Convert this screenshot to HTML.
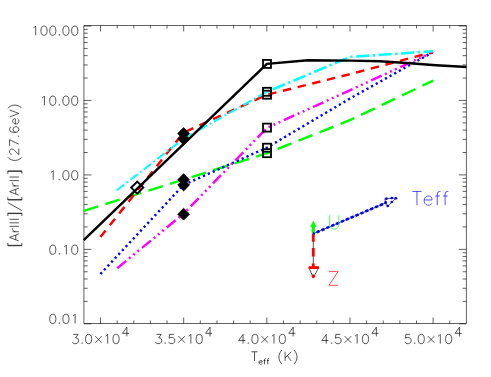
<!DOCTYPE html>
<html><head><meta charset="utf-8"><title>plot</title>
<style>html,body{margin:0;padding:0;background:#fff;}body{width:491px;height:377px;overflow:hidden;position:relative;font-family:"Liberation Sans",sans-serif;}</style></head>
<body>
<svg width="491" height="377" viewBox="0 0 491 377" style="position:absolute;left:0;top:0">
<rect width="491" height="377" fill="#fff"/>
<g stroke="#000" stroke-width="0.62" fill="none" stroke-linejoin="round">
<rect x="83.9" y="25.5" width="382.50" height="298.0"/>
<path d="M100.53 323.5v-6.0M100.53 25.5v6.0M117.16 323.5v-3.0M117.16 25.5v3.0M133.79 323.5v-3.0M133.79 25.5v3.0M150.42 323.5v-3.0M150.42 25.5v3.0M167.05 323.5v-3.0M167.05 25.5v3.0M183.68 323.5v-6.0M183.68 25.5v6.0M200.31 323.5v-3.0M200.31 25.5v3.0M216.94 323.5v-3.0M216.94 25.5v3.0M233.57 323.5v-3.0M233.57 25.5v3.0M250.20 323.5v-3.0M250.20 25.5v3.0M266.83 323.5v-6.0M266.83 25.5v6.0M283.47 323.5v-3.0M283.47 25.5v3.0M300.10 323.5v-3.0M300.10 25.5v3.0M316.73 323.5v-3.0M316.73 25.5v3.0M333.36 323.5v-3.0M333.36 25.5v3.0M349.99 323.5v-6.0M349.99 25.5v6.0M366.62 323.5v-3.0M366.62 25.5v3.0M383.25 323.5v-3.0M383.25 25.5v3.0M399.88 323.5v-3.0M399.88 25.5v3.0M416.51 323.5v-3.0M416.51 25.5v3.0M433.14 323.5v-6.0M433.14 25.5v6.0M449.77 323.5v-3.0M449.77 25.5v3.0M83.9 323.80h7.6M466.4 323.80h-7.6M83.9 301.39h3.8M466.4 301.39h-3.8M83.9 288.28h3.8M466.4 288.28h-3.8M83.9 278.98h3.8M466.4 278.98h-3.8M83.9 271.76h3.8M466.4 271.76h-3.8M83.9 265.87h3.8M466.4 265.87h-3.8M83.9 260.88h3.8M466.4 260.88h-3.8M83.9 256.56h3.8M466.4 256.56h-3.8M83.9 252.76h3.8M466.4 252.76h-3.8M83.9 249.35h7.6M466.4 249.35h-7.6M83.9 226.94h3.8M466.4 226.94h-3.8M83.9 213.83h3.8M466.4 213.83h-3.8M83.9 204.53h3.8M466.4 204.53h-3.8M83.9 197.31h3.8M466.4 197.31h-3.8M83.9 191.42h3.8M466.4 191.42h-3.8M83.9 186.43h3.8M466.4 186.43h-3.8M83.9 182.11h3.8M466.4 182.11h-3.8M83.9 178.31h3.8M466.4 178.31h-3.8M83.9 174.90h7.6M466.4 174.90h-7.6M83.9 152.49h3.8M466.4 152.49h-3.8M83.9 139.38h3.8M466.4 139.38h-3.8M83.9 130.08h3.8M466.4 130.08h-3.8M83.9 122.86h3.8M466.4 122.86h-3.8M83.9 116.97h3.8M466.4 116.97h-3.8M83.9 111.98h3.8M466.4 111.98h-3.8M83.9 107.66h3.8M466.4 107.66h-3.8M83.9 103.86h3.8M466.4 103.86h-3.8M83.9 100.45h7.6M466.4 100.45h-7.6M83.9 78.04h3.8M466.4 78.04h-3.8M83.9 64.93h3.8M466.4 64.93h-3.8M83.9 55.63h3.8M466.4 55.63h-3.8M83.9 48.41h3.8M466.4 48.41h-3.8M83.9 42.52h3.8M466.4 42.52h-3.8M83.9 37.53h3.8M466.4 37.53h-3.8M83.9 33.21h3.8M466.4 33.21h-3.8M83.9 29.41h3.8M466.4 29.41h-3.8M83.9 26.00h7.6M466.4 26.00h-7.6"/>
</g>
<clipPath id="c"><rect x="82.7" y="25.5" width="383.70" height="298.0"/></clipPath>
<g fill="none" stroke-width="2.45" clip-path="url(#c)" stroke-linejoin="round">
<polyline points="83.2,211.0 183.5,179.7 267.0,153.2 349.9,120.2 433.2,80.6" stroke="#00ff00" stroke-dasharray="15 7.6" stroke-dashoffset="22"/>
<polyline points="100.4,274.0 183.5,185.0 267.0,147.6 349.9,98.6 433.0,52.0" stroke="#0000ff" stroke-dasharray="2.2 3.1" stroke-dashoffset="0" stroke-width="2.4"/>
<polyline points="117.3,268.2 183.5,213.8 267.0,127.8 349.9,90.3 433.0,52.0" stroke="#ff00ff" stroke-dasharray="11.5 3.7 2 3.5 2 3.5 2 3.8" stroke-dashoffset="0"/>
<polyline points="100.4,237.1 183.4,132.7 267.0,94.7 349.9,74.2 433.0,52.0" stroke="#ff0000" stroke-dasharray="8.4 6.7" stroke-dashoffset="0"/>
<polyline points="116.8,190.2 183.5,138.8 267.0,91.8" stroke="#00ffff" stroke-dasharray="9.4 2.9 1.8 2.9" stroke-dashoffset="0" stroke-width="2.0"/>
<polyline points="267.0,91.8 349.9,57.0 433.0,51.2" stroke="#00ffff" stroke-dasharray="13.2 3.4 2.4 3.5" stroke-dashoffset="16.3" stroke-width="2.6"/>
<polyline points="83.7,240.2 266.9,63.9 308.0,60.2 350.0,60.6 380.0,61.3 410.0,63.2 436.0,65.2 470.0,67.2" stroke="#000"/>
</g>
<path d="M137.25 181.6L143.25 187.6L137.25 193.6L131.25 187.6Z" fill="none" stroke="#000" stroke-width="2.0"/>
<path d="M183.6 127.6L189.5 133.5L183.6 139.4L177.7 133.5Z" fill="#000" stroke="#000" stroke-width="0.8"/>
<path d="M183.6 133.1L189.5 139.0L183.6 144.9L177.7 139.0Z" fill="#000" stroke="#000" stroke-width="0.8"/>
<path d="M183.6 173.79999999999998L189.5 179.7L183.6 185.6L177.7 179.7Z" fill="#000" stroke="#000" stroke-width="0.8"/>
<path d="M183.6 179.1L189.5 185L183.6 190.9L177.7 185Z" fill="#000" stroke="#000" stroke-width="0.8"/>
<path d="M183.6 208.29999999999998L189.5 214.2L183.6 220.1L177.7 214.2Z" fill="#000" stroke="#000" stroke-width="0.8"/>
<rect x="263.0" y="59.9" width="8.0" height="8.0" fill="none" stroke="#000" stroke-width="1.8"/>
<rect x="263.0" y="87.8" width="8.0" height="8.0" fill="none" stroke="#000" stroke-width="1.8"/>
<rect x="263.0" y="90.7" width="8.0" height="8.0" fill="none" stroke="#000" stroke-width="1.8"/>
<rect x="263.0" y="123.6" width="8.0" height="8.0" fill="none" stroke="#000" stroke-width="1.8"/>
<rect x="263.0" y="143.7" width="8.0" height="8.0" fill="none" stroke="#000" stroke-width="1.8"/>
<rect x="263.0" y="149.2" width="8.0" height="8.0" fill="none" stroke="#000" stroke-width="1.8"/>
<g stroke="#000" stroke-width="0.67" fill="none">
<path d="M313.3 233.7L313.3 267.6"/>
<path d="M308.9 267.6L318.7 267.6L313.3 277.5Z"/>
<path d="M313.3 233.7L386.1 202.7"/>
<path d="M384.7 198.8L396.1 198L387.5 206.6Z"/>
</g>
<path d="M313.3 233.7L313.3 226" stroke="#00ff00" stroke-width="3.2" fill="none"/>
<path d="M310.6 226.7L313.3 221.4L316.0 226.7Z" fill="#00ff00" stroke="#00ff00" stroke-width="0.8"/>
<path d="M313.3 233.7L313.3 267.6" stroke="#ff0000" stroke-width="2.8" fill="none" stroke-dasharray="8 6.3 8.5 7 10"/>
<path d="M308.7 267.6L318.9 267.6" stroke="#ff0000" stroke-width="2.8" fill="none"/>
<ellipse cx="313.3" cy="276.3" rx="1.6" ry="2.0" fill="#ff0000"/>
<path d="M313.3 233.7L386.1 202.7" stroke="#0000ff" stroke-width="2.6" fill="none" stroke-dasharray="3.3 2" stroke-dashoffset="1.75"/>
<circle cx="386.5" cy="198.7" r="1.35" fill="#0000ff"/>
<circle cx="391.8" cy="198.0" r="1.35" fill="#0000ff"/>
<circle cx="395.9" cy="198.3" r="1.35" fill="#0000ff"/>
<circle cx="391.8" cy="202.0" r="1.35" fill="#0000ff"/>
<circle cx="387.8" cy="206.0" r="1.35" fill="#0000ff"/>
<circle cx="385.6" cy="202.3" r="1.35" fill="#0000ff"/>
<path transform="translate(79.10,35.30)" d="M-45.61 -7.46L-44.74 -7.89L-43.42 -9.21L-43.42 -0.00M-38.16 -5.26L-38.16 -3.95L-37.72 -1.75L-36.84 -0.44L-35.53 -0.00L-34.65 -0.00L-33.33 -0.44L-32.46 -1.75L-32.02 -3.95L-32.02 -5.26L-32.46 -7.46L-33.33 -8.77L-34.65 -9.21L-35.53 -9.21L-36.84 -8.77L-37.72 -7.46L-38.16 -5.26M-29.39 -5.26L-29.39 -3.95L-28.95 -1.75L-28.07 -0.44L-26.75 -0.00L-25.88 -0.00L-24.56 -0.44L-23.68 -1.75L-23.25 -3.95L-23.25 -5.26L-23.68 -7.46L-24.56 -8.77L-25.88 -9.21L-26.75 -9.21L-28.07 -8.77L-28.95 -7.46L-29.39 -5.26M-19.74 0.00L-20.18 -0.44L-19.74 -0.88L-19.30 -0.44L-19.74 0.00M-16.23 -5.26L-16.23 -3.95L-15.79 -1.75L-14.91 -0.44L-13.60 -0.00L-12.72 -0.00L-11.40 -0.44L-10.53 -1.75L-10.09 -3.95L-10.09 -5.26L-10.53 -7.46L-11.40 -8.77L-12.72 -9.21L-13.60 -9.21L-14.91 -8.77L-15.79 -7.46L-16.23 -5.26M-7.46 -5.26L-7.46 -3.95L-7.02 -1.75L-6.14 -0.44L-4.82 -0.00L-3.95 -0.00L-2.63 -0.44L-1.75 -1.75L-1.32 -3.95L-1.32 -5.26L-1.75 -7.46L-2.63 -8.77L-3.95 -9.21L-4.82 -9.21L-6.14 -8.77L-7.02 -7.46L-7.46 -5.26" fill="none" stroke="#000" stroke-width="0.67" stroke-linejoin="round" stroke-linecap="butt"/>
<path transform="translate(79.10,105.30)" d="M-36.84 -7.46L-35.97 -7.89L-34.65 -9.21L-34.65 -0.00M-29.39 -5.26L-29.39 -3.95L-28.95 -1.75L-28.07 -0.44L-26.75 -0.00L-25.88 -0.00L-24.56 -0.44L-23.68 -1.75L-23.25 -3.95L-23.25 -5.26L-23.68 -7.46L-24.56 -8.77L-25.88 -9.21L-26.75 -9.21L-28.07 -8.77L-28.95 -7.46L-29.39 -5.26M-19.74 0.00L-20.18 -0.44L-19.74 -0.88L-19.30 -0.44L-19.74 0.00M-16.23 -5.26L-16.23 -3.95L-15.79 -1.75L-14.91 -0.44L-13.60 -0.00L-12.72 -0.00L-11.40 -0.44L-10.53 -1.75L-10.09 -3.95L-10.09 -5.26L-10.53 -7.46L-11.40 -8.77L-12.72 -9.21L-13.60 -9.21L-14.91 -8.77L-15.79 -7.46L-16.23 -5.26M-7.46 -5.26L-7.46 -3.95L-7.02 -1.75L-6.14 -0.44L-4.82 -0.00L-3.95 -0.00L-2.63 -0.44L-1.75 -1.75L-1.32 -3.95L-1.32 -5.26L-1.75 -7.46L-2.63 -8.77L-3.95 -9.21L-4.82 -9.21L-6.14 -8.77L-7.02 -7.46L-7.46 -5.26" fill="none" stroke="#000" stroke-width="0.67" stroke-linejoin="round" stroke-linecap="butt"/>
<path transform="translate(79.10,179.80)" d="M-28.07 -7.46L-27.19 -7.89L-25.88 -9.21L-25.88 -0.00M-19.74 0.00L-20.18 -0.44L-19.74 -0.88L-19.30 -0.44L-19.74 0.00M-16.23 -5.26L-16.23 -3.95L-15.79 -1.75L-14.91 -0.44L-13.60 -0.00L-12.72 -0.00L-11.40 -0.44L-10.53 -1.75L-10.09 -3.95L-10.09 -5.26L-10.53 -7.46L-11.40 -8.77L-12.72 -9.21L-13.60 -9.21L-14.91 -8.77L-15.79 -7.46L-16.23 -5.26M-7.46 -5.26L-7.46 -3.95L-7.02 -1.75L-6.14 -0.44L-4.82 -0.00L-3.95 -0.00L-2.63 -0.44L-1.75 -1.75L-1.32 -3.95L-1.32 -5.26L-1.75 -7.46L-2.63 -8.77L-3.95 -9.21L-4.82 -9.21L-6.14 -8.77L-7.02 -7.46L-7.46 -5.26" fill="none" stroke="#000" stroke-width="0.67" stroke-linejoin="round" stroke-linecap="butt"/>
<path transform="translate(79.10,254.30)" d="M-29.39 -5.26L-29.39 -3.95L-28.95 -1.75L-28.07 -0.44L-26.75 -0.00L-25.88 -0.00L-24.56 -0.44L-23.68 -1.75L-23.25 -3.95L-23.25 -5.26L-23.68 -7.46L-24.56 -8.77L-25.88 -9.21L-26.75 -9.21L-28.07 -8.77L-28.95 -7.46L-29.39 -5.26M-19.74 0.00L-20.18 -0.44L-19.74 -0.88L-19.30 -0.44L-19.74 0.00M-14.91 -7.46L-14.04 -7.89L-12.72 -9.21L-12.72 -0.00M-7.46 -5.26L-7.46 -3.95L-7.02 -1.75L-6.14 -0.44L-4.82 -0.00L-3.95 -0.00L-2.63 -0.44L-1.75 -1.75L-1.32 -3.95L-1.32 -5.26L-1.75 -7.46L-2.63 -8.77L-3.95 -9.21L-4.82 -9.21L-6.14 -8.77L-7.02 -7.46L-7.46 -5.26" fill="none" stroke="#000" stroke-width="0.67" stroke-linejoin="round" stroke-linecap="butt"/>
<path transform="translate(79.10,323.50)" d="M-29.39 -5.26L-29.39 -3.95L-28.95 -1.75L-28.07 -0.44L-26.75 -0.00L-25.88 -0.00L-24.56 -0.44L-23.68 -1.75L-23.25 -3.95L-23.25 -5.26L-23.68 -7.46L-24.56 -8.77L-25.88 -9.21L-26.75 -9.21L-28.07 -8.77L-28.95 -7.46L-29.39 -5.26M-19.74 0.00L-20.18 -0.44L-19.74 -0.88L-19.30 -0.44L-19.74 0.00M-16.23 -5.26L-16.23 -3.95L-15.79 -1.75L-14.91 -0.44L-13.60 -0.00L-12.72 -0.00L-11.40 -0.44L-10.53 -1.75L-10.09 -3.95L-10.09 -5.26L-10.53 -7.46L-11.40 -8.77L-12.72 -9.21L-13.60 -9.21L-14.91 -8.77L-15.79 -7.46L-16.23 -5.26M-6.14 -7.46L-5.26 -7.89L-3.95 -9.21L-3.95 -0.00" fill="none" stroke="#000" stroke-width="0.67" stroke-linejoin="round" stroke-linecap="butt"/>
<path transform="translate(71.08,343.60)" d="M2.19 -9.21L7.02 -9.21L4.39 -5.70L5.70 -5.70L6.58 -5.26L7.02 -4.82L7.46 -3.51L7.46 -2.63L7.02 -1.32L6.14 -0.44L4.82 -0.00L3.51 -0.00L2.19 -0.44L1.75 -0.88L1.32 -1.75M10.96 0.00L10.53 -0.44L10.96 -0.88L11.40 -0.44L10.96 0.00M14.47 -5.26L14.47 -3.95L14.91 -1.75L15.79 -0.44L17.11 -0.00L17.98 -0.00L19.30 -0.44L20.18 -1.75L20.61 -3.95L20.61 -5.26L20.18 -7.46L19.30 -8.77L17.98 -9.21L17.11 -9.21L15.79 -8.77L14.91 -7.46L14.47 -5.26M24.12 -0.88L30.70 -7.46M30.70 -0.88L24.12 -7.46M34.43 -7.46L35.31 -7.89L36.62 -9.21L36.62 -0.00M41.89 -5.26L41.89 -3.95L42.32 -1.75L43.20 -0.44L44.52 -0.00L45.40 -0.00L46.71 -0.44L47.59 -1.75L48.03 -3.95L48.03 -5.26L47.59 -7.46L46.71 -8.77L45.40 -9.21L44.52 -9.21L43.20 -8.77L42.32 -7.46L41.89 -5.26" fill="none" stroke="#000" stroke-width="0.67" stroke-linejoin="round" stroke-linecap="butt"/>
<path transform="translate(121.17,336.40)" d="M7.89 -3.07L1.32 -3.07L5.70 -9.21L5.70 -0.00" fill="none" stroke="#000" stroke-width="0.67" stroke-linejoin="round" stroke-linecap="butt"/>
<path transform="translate(154.23,343.60)" d="M2.19 -9.21L7.02 -9.21L4.39 -5.70L5.70 -5.70L6.58 -5.26L7.02 -4.82L7.46 -3.51L7.46 -2.63L7.02 -1.32L6.14 -0.44L4.82 -0.00L3.51 -0.00L2.19 -0.44L1.75 -0.88L1.32 -1.75M10.96 0.00L10.53 -0.44L10.96 -0.88L11.40 -0.44L10.96 0.00M14.47 -1.75L14.91 -0.88L15.35 -0.44L16.67 -0.00L17.98 -0.00L19.30 -0.44L20.18 -1.32L20.61 -2.63L20.61 -3.51L20.18 -4.82L19.30 -5.70L17.98 -6.14L16.67 -6.14L15.35 -5.70L14.91 -5.26L15.35 -9.21L19.74 -9.21M24.12 -0.88L30.70 -7.46M30.70 -0.88L24.12 -7.46M34.43 -7.46L35.31 -7.89L36.62 -9.21L36.62 -0.00M41.89 -5.26L41.89 -3.95L42.32 -1.75L43.20 -0.44L44.52 -0.00L45.40 -0.00L46.71 -0.44L47.59 -1.75L48.03 -3.95L48.03 -5.26L47.59 -7.46L46.71 -8.77L45.40 -9.21L44.52 -9.21L43.20 -8.77L42.32 -7.46L41.89 -5.26" fill="none" stroke="#000" stroke-width="0.67" stroke-linejoin="round" stroke-linecap="butt"/>
<path transform="translate(204.32,336.40)" d="M7.89 -3.07L1.32 -3.07L5.70 -9.21L5.70 -0.00" fill="none" stroke="#000" stroke-width="0.67" stroke-linejoin="round" stroke-linecap="butt"/>
<path transform="translate(237.38,343.60)" d="M7.89 -3.07L1.32 -3.07L5.70 -9.21L5.70 -0.00M10.96 0.00L10.53 -0.44L10.96 -0.88L11.40 -0.44L10.96 0.00M14.47 -5.26L14.47 -3.95L14.91 -1.75L15.79 -0.44L17.11 -0.00L17.98 -0.00L19.30 -0.44L20.18 -1.75L20.61 -3.95L20.61 -5.26L20.18 -7.46L19.30 -8.77L17.98 -9.21L17.11 -9.21L15.79 -8.77L14.91 -7.46L14.47 -5.26M24.12 -0.88L30.70 -7.46M30.70 -0.88L24.12 -7.46M34.43 -7.46L35.31 -7.89L36.62 -9.21L36.62 -0.00M41.89 -5.26L41.89 -3.95L42.32 -1.75L43.20 -0.44L44.52 -0.00L45.40 -0.00L46.71 -0.44L47.59 -1.75L48.03 -3.95L48.03 -5.26L47.59 -7.46L46.71 -8.77L45.40 -9.21L44.52 -9.21L43.20 -8.77L42.32 -7.46L41.89 -5.26" fill="none" stroke="#000" stroke-width="0.67" stroke-linejoin="round" stroke-linecap="butt"/>
<path transform="translate(287.47,336.40)" d="M7.89 -3.07L1.32 -3.07L5.70 -9.21L5.70 -0.00" fill="none" stroke="#000" stroke-width="0.67" stroke-linejoin="round" stroke-linecap="butt"/>
<path transform="translate(320.54,343.60)" d="M7.89 -3.07L1.32 -3.07L5.70 -9.21L5.70 -0.00M10.96 0.00L10.53 -0.44L10.96 -0.88L11.40 -0.44L10.96 0.00M14.47 -1.75L14.91 -0.88L15.35 -0.44L16.67 -0.00L17.98 -0.00L19.30 -0.44L20.18 -1.32L20.61 -2.63L20.61 -3.51L20.18 -4.82L19.30 -5.70L17.98 -6.14L16.67 -6.14L15.35 -5.70L14.91 -5.26L15.35 -9.21L19.74 -9.21M24.12 -0.88L30.70 -7.46M30.70 -0.88L24.12 -7.46M34.43 -7.46L35.31 -7.89L36.62 -9.21L36.62 -0.00M41.89 -5.26L41.89 -3.95L42.32 -1.75L43.20 -0.44L44.52 -0.00L45.40 -0.00L46.71 -0.44L47.59 -1.75L48.03 -3.95L48.03 -5.26L47.59 -7.46L46.71 -8.77L45.40 -9.21L44.52 -9.21L43.20 -8.77L42.32 -7.46L41.89 -5.26" fill="none" stroke="#000" stroke-width="0.67" stroke-linejoin="round" stroke-linecap="butt"/>
<path transform="translate(370.63,336.40)" d="M7.89 -3.07L1.32 -3.07L5.70 -9.21L5.70 -0.00" fill="none" stroke="#000" stroke-width="0.67" stroke-linejoin="round" stroke-linecap="butt"/>
<path transform="translate(403.69,343.60)" d="M1.32 -1.75L1.75 -0.88L2.19 -0.44L3.51 -0.00L4.82 -0.00L6.14 -0.44L7.02 -1.32L7.46 -2.63L7.46 -3.51L7.02 -4.82L6.14 -5.70L4.82 -6.14L3.51 -6.14L2.19 -5.70L1.75 -5.26L2.19 -9.21L6.58 -9.21M10.96 0.00L10.53 -0.44L10.96 -0.88L11.40 -0.44L10.96 0.00M14.47 -5.26L14.47 -3.95L14.91 -1.75L15.79 -0.44L17.11 -0.00L17.98 -0.00L19.30 -0.44L20.18 -1.75L20.61 -3.95L20.61 -5.26L20.18 -7.46L19.30 -8.77L17.98 -9.21L17.11 -9.21L15.79 -8.77L14.91 -7.46L14.47 -5.26M24.12 -0.88L30.70 -7.46M30.70 -0.88L24.12 -7.46M34.43 -7.46L35.31 -7.89L36.62 -9.21L36.62 -0.00M41.89 -5.26L41.89 -3.95L42.32 -1.75L43.20 -0.44L44.52 -0.00L45.40 -0.00L46.71 -0.44L47.59 -1.75L48.03 -3.95L48.03 -5.26L47.59 -7.46L46.71 -8.77L45.40 -9.21L44.52 -9.21L43.20 -8.77L42.32 -7.46L41.89 -5.26" fill="none" stroke="#000" stroke-width="0.67" stroke-linejoin="round" stroke-linecap="butt"/>
<path transform="translate(453.78,336.40)" d="M7.89 -3.07L1.32 -3.07L5.70 -9.21L5.70 -0.00" fill="none" stroke="#000" stroke-width="0.67" stroke-linejoin="round" stroke-linecap="butt"/>
<path transform="translate(251.00,361.00)" d="M0.44 -9.21L6.58 -9.21M3.51 -9.21L3.51 -0.00" fill="none" stroke="#000" stroke-width="0.67" stroke-linejoin="round" stroke-linecap="butt"/>
<path transform="translate(258.20,364.30)" d="M0.82 -2.18L0.82 -1.63L1.09 -0.82L1.63 -0.27L2.18 -0.00L2.99 -0.00L3.54 -0.27L4.08 -0.82M0.82 -2.18L1.09 -2.99L1.63 -3.54L2.18 -3.81L2.99 -3.81L3.54 -3.54L3.81 -3.26L4.08 -2.72L4.08 -2.18L0.82 -2.18M5.44 -3.81L7.34 -3.81M6.25 -0.00L6.25 -4.62L6.53 -5.44L7.07 -5.71L7.61 -5.71M8.70 -3.81L10.61 -3.81M9.52 -0.00L9.52 -4.62L9.79 -5.44L10.33 -5.71L10.88 -5.71" fill="none" stroke="#000" stroke-width="0.67" stroke-linejoin="round" stroke-linecap="butt"/>
<path transform="translate(277.20,361.00)" d="M4.82 -10.96L3.95 -10.09L3.07 -8.77L2.19 -7.02L1.75 -4.82L1.75 -3.07L2.19 -0.88L3.07 0.88L3.95 2.19L4.82 3.07M7.89 -9.21L7.89 -0.00M7.89 -3.07L14.04 -9.21M10.09 -5.26L14.04 -0.00M16.67 -10.96L17.54 -10.09L18.42 -8.77L19.30 -7.02L19.74 -4.82L19.74 -3.07L19.30 -0.88L18.42 0.88L17.54 2.19L16.67 3.07" fill="none" stroke="#000" stroke-width="0.67" stroke-linejoin="round" stroke-linecap="butt"/>
<path transform="translate(18.80,247.50) rotate(-90)" d="M4.61 -10.96L1.75 -10.96L1.75 3.07L4.61 3.07M2.19 -10.96L2.19 3.07M6.58 -0.00L10.09 -9.21L13.60 -0.00M7.89 -3.07L12.28 -3.07M15.79 -6.14L15.79 -0.00M15.79 -3.51L16.23 -4.82L17.11 -5.70L17.98 -6.14L19.30 -6.14M21.18 -9.21L21.18 -0.00M24.69 -9.21L24.69 -0.00M28.20 -9.21L28.20 -0.00M31.49 -10.96L34.34 -10.96L34.34 3.07L31.49 3.07M33.90 -10.96L33.90 3.07M36.97 3.07L44.87 -10.96M50.35 -10.96L47.50 -10.96L47.50 3.07L50.35 3.07M47.94 -10.96L47.94 3.07M52.32 -0.00L55.83 -9.21L59.34 -0.00M53.64 -3.07L58.03 -3.07M61.54 -6.14L61.54 -0.00M61.54 -3.51L61.97 -4.82L62.85 -5.70L63.73 -6.14L65.04 -6.14M66.93 -9.21L66.93 -0.00M70.44 -9.21L70.44 -0.00M73.73 -10.96L76.58 -10.96L76.58 3.07L73.73 3.07M76.14 -10.96L76.14 3.07M90.18 -10.96L89.30 -10.09L88.42 -8.77L87.54 -7.02L87.11 -4.82L87.11 -3.07L87.54 -0.88L88.42 0.88L89.30 2.19L90.18 3.07M93.25 -7.02L93.25 -7.46L93.68 -8.33L94.12 -8.77L95.00 -9.21L96.76 -9.21L97.63 -8.77L98.07 -8.33L98.51 -7.46L98.51 -6.58L98.07 -5.70L97.19 -4.39L92.81 0.00L98.95 0.00M101.58 -9.21L107.72 -9.21L103.33 0.00M111.23 0.00L110.79 -0.44L111.23 -0.88L111.67 -0.44L111.23 0.00M115.18 -3.07L115.18 -5.26L115.61 -7.46L116.49 -8.77L117.81 -9.21L118.69 -9.21L120.00 -8.77L120.44 -7.89M115.18 -3.07L115.61 -4.39L116.49 -5.26L117.81 -5.70L118.25 -5.70L119.56 -5.26L120.44 -4.39L120.88 -3.07L120.88 -2.63L120.44 -1.32L119.56 -0.44L118.25 -0.00L117.81 -0.00L116.49 -0.44L115.61 -1.32L115.18 -3.07M123.51 -3.51L123.51 -2.63L123.95 -1.32L124.83 -0.44L125.70 -0.00L127.02 -0.00L127.90 -0.44L128.77 -1.32M123.51 -3.51L123.95 -4.82L124.83 -5.70L125.70 -6.14L127.02 -6.14L127.90 -5.70L128.33 -5.26L128.77 -4.39L128.77 -3.51L123.51 -3.51M130.53 -9.21L134.04 -0.00L137.54 -9.21M139.30 -10.96L140.18 -10.09L141.05 -8.77L141.93 -7.02L142.37 -4.82L142.37 -3.07L141.93 -0.88L141.05 0.88L140.18 2.19L139.30 3.07" fill="none" stroke="#000" stroke-width="0.67" stroke-linejoin="round" stroke-linecap="butt"/>
<path transform="translate(327.00,229.10)" d="M2.62 -13.76L2.62 -3.93L3.28 -1.97L4.58 -0.66L6.55 -0.00L7.86 -0.00L9.83 -0.66L11.13 -1.97L11.79 -3.93L11.79 -13.76" fill="none" stroke="#00ff00" stroke-width="0.67" stroke-linejoin="round" stroke-linecap="butt"/>
<path transform="translate(327.00,285.30)" d="M1.97 -13.76L11.13 -13.76L1.97 -0.00L11.13 -0.00" fill="none" stroke="#ff0000" stroke-width="0.67" stroke-linejoin="round" stroke-linecap="butt"/>
<path transform="translate(411.70,205.20)" d="M0.66 -13.76L9.83 -13.76M5.24 -13.76L5.24 -0.00M12.45 -5.24L12.45 -3.93L13.10 -1.97L14.41 -0.66L15.72 -0.00L17.69 -0.00L19.00 -0.66L20.30 -1.97M12.45 -5.24L13.10 -7.21L14.41 -8.52L15.72 -9.17L17.69 -9.17L19.00 -8.52L19.65 -7.86L20.30 -6.55L20.30 -5.24L12.45 -5.24M23.58 -9.17L28.17 -9.17M25.55 -0.00L25.55 -11.13L26.20 -13.10L27.51 -13.76L28.82 -13.76M31.44 -9.17L36.03 -9.17M33.41 -0.00L33.41 -11.13L34.06 -13.10L35.37 -13.76L36.68 -13.76" fill="none" stroke="#0000ff" stroke-width="0.67" stroke-linejoin="round" stroke-linecap="butt"/>
</svg>
</body></html>
